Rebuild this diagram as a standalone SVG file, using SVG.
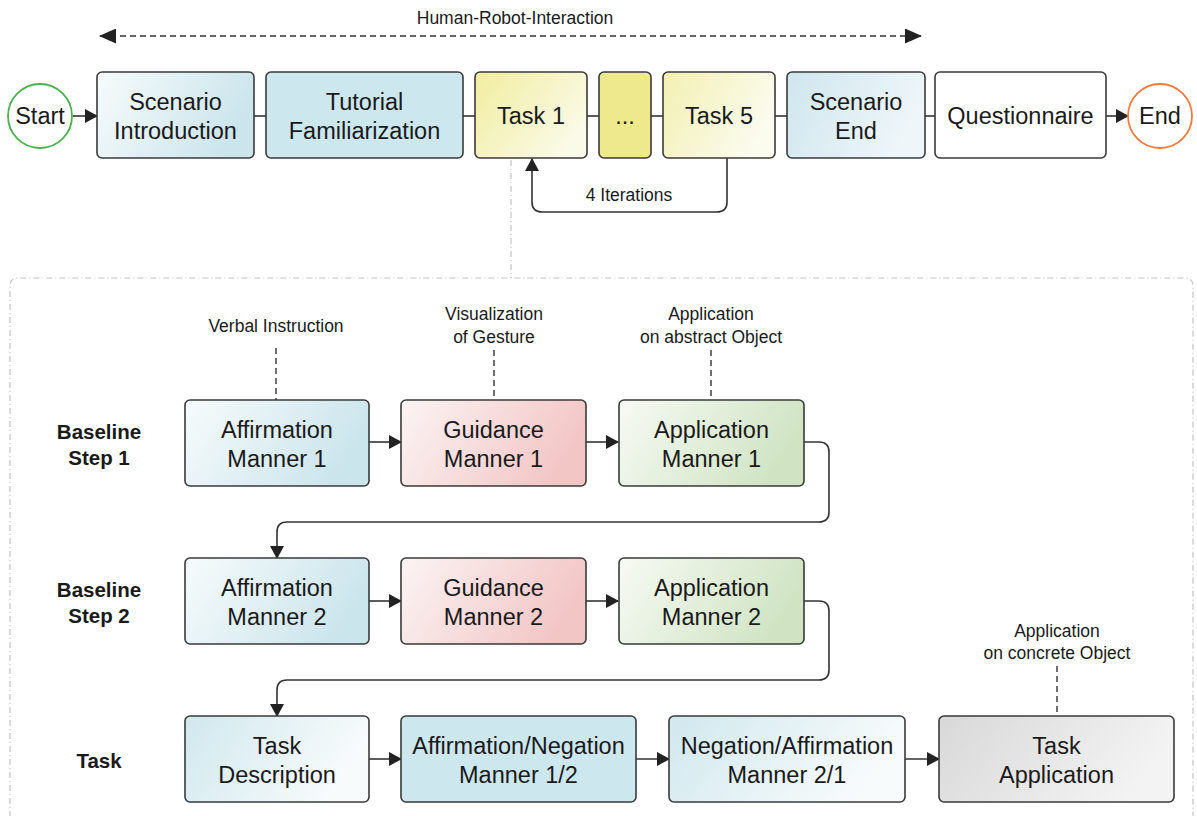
<svg xmlns="http://www.w3.org/2000/svg" width="1197" height="816" viewBox="0 0 1197 816">
<style>
.box{stroke:#3a3a3a;stroke-width:1.6}
.t{font-family:"Liberation Sans",Arial,sans-serif;font-size:23.5px;fill:#1a1a1a;text-anchor:middle}
.s{font-family:"Liberation Sans",Arial,sans-serif;font-size:17.5px;fill:#1a1a1a;text-anchor:middle}
.b{font-family:"Liberation Sans",Arial,sans-serif;font-size:20.5px;font-weight:bold;fill:#1a1a1a;text-anchor:middle}
.ln{stroke:#333;stroke-width:1.6;fill:none}
.dl{stroke:#333;stroke-width:1.4;fill:none;stroke-dasharray:6,4}
.gl{stroke:#c4c4c4;stroke-width:1.2;fill:none;stroke-dasharray:6,3,1,3}
</style>
<defs>
<marker id="ah" markerWidth="13" markerHeight="14" refX="12" refY="7" orient="auto" markerUnits="userSpaceOnUse"><path d="M0,0 L13,7 L0,14 Z" fill="#222"/></marker>
<marker id="ahs" markerWidth="17" markerHeight="15" refX="16" refY="7.5" orient="auto-start-reverse" markerUnits="userSpaceOnUse"><path d="M0,0 L17,7.5 L0,15 Z" fill="#222"/></marker>
<linearGradient id="gBlue" x1="0" y1="0" x2="1" y2="0.3"><stop offset="0" stop-color="#f7fbfc"/><stop offset="1" stop-color="#cbe5ec"/></linearGradient>
<linearGradient id="gBlueR" x1="0" y1="0" x2="1" y2="0.3"><stop offset="0" stop-color="#d0e8ee"/><stop offset="1" stop-color="#f8fbfc"/></linearGradient>
<linearGradient id="gBlueSE" x1="0" y1="0" x2="1" y2="0.3"><stop offset="0" stop-color="#cfe6ee"/><stop offset="1" stop-color="#eef6f9"/></linearGradient>
<linearGradient id="gPink" x1="0" y1="0" x2="1" y2="0.3"><stop offset="0" stop-color="#fbf4f4"/><stop offset="1" stop-color="#f3c6c6"/></linearGradient>
<linearGradient id="gGreen" x1="0" y1="0" x2="1" y2="0.3"><stop offset="0" stop-color="#f7faf4"/><stop offset="1" stop-color="#d0e4c4"/></linearGradient>
<linearGradient id="gYel" x1="0" y1="0" x2="1" y2="0.6"><stop offset="0" stop-color="#f1ed9e"/><stop offset="1" stop-color="#fafae8"/></linearGradient>
<linearGradient id="gYel5" x1="0" y1="0" x2="1" y2="0.4"><stop offset="0" stop-color="#f3f0b2"/><stop offset="1" stop-color="#fbfbee"/></linearGradient>
<linearGradient id="gGray" x1="0" y1="0" x2="1" y2="0.3"><stop offset="0" stop-color="#d8d8d8"/><stop offset="1" stop-color="#f3f3f3"/></linearGradient>
</defs>

<g id="connectors">
<line class="dl" x1="100" y1="36" x2="921" y2="36" marker-start="url(#ahs)" marker-end="url(#ahs)"/>
<line class="ln" x1="73" y1="116" x2="97" y2="116" marker-end="url(#ah)"/>
<line class="ln" x1="254" y1="116" x2="266" y2="116"/>
<line class="ln" x1="463" y1="116" x2="475" y2="116"/>
<line class="ln" x1="587" y1="116" x2="599" y2="116"/>
<line class="ln" x1="651" y1="116" x2="663" y2="116"/>
<line class="ln" x1="775" y1="116" x2="787" y2="116"/>
<line class="ln" x1="925" y1="116" x2="935" y2="116"/>
<line class="ln" x1="1106" y1="116" x2="1128" y2="116" marker-end="url(#ah)"/>
<path class="ln" d="M727,158 V202 Q727,212 717,212 H542 Q532,212 532,202 V159" marker-end="url(#ah)"/>
<line class="gl" x1="511" y1="160" x2="511" y2="278"/>
<line class="dl" x1="276" y1="348" x2="276" y2="400"/>
<line class="dl" x1="494" y1="350" x2="494" y2="400"/>
<line class="dl" x1="711" y1="350" x2="711" y2="400"/>
<line class="dl" x1="1057" y1="666" x2="1057" y2="716"/>
<line class="ln" x1="369" y1="442" x2="401" y2="442" marker-end="url(#ah)"/>
<line class="ln" x1="586" y1="442" x2="618" y2="442" marker-end="url(#ah)"/>
<line class="ln" x1="369" y1="601" x2="401" y2="601" marker-end="url(#ah)"/>
<line class="ln" x1="586" y1="601" x2="618" y2="601" marker-end="url(#ah)"/>
<line class="ln" x1="369" y1="759" x2="401" y2="759" marker-end="url(#ah)"/>
<line class="ln" x1="636" y1="759" x2="669" y2="759" marker-end="url(#ah)"/>
<line class="ln" x1="905" y1="759" x2="939" y2="759" marker-end="url(#ah)"/>
<path class="ln" d="M804,442 H819 Q829,442 829,452 V512 Q829,522 819,522 H287 Q277,522 277,532 V558" marker-end="url(#ah)"/>
<path class="ln" d="M804,601 H819 Q829,601 829,611 V670 Q829,680 819,680 H287 Q277,680 277,690 V716" marker-end="url(#ah)"/>
</g>

<g id="frame">
<path class="gl" d="M10,830 V286 Q10,278 18,278 H1185 Q1193,278 1193,286 V830"/>
</g>

<g id="labels">
<text class="s" x="515" y="24">Human-Robot-Interaction</text>
<text class="s" x="629" y="201">4 Iterations</text>
<text class="s" x="276" y="332">Verbal Instruction</text>
<text class="s" x="494" y="320">Visualization</text>
<text class="s" x="494" y="343">of Gesture</text>
<text class="s" x="711" y="320">Application</text>
<text class="s" x="711" y="343">on abstract Object</text>
<text class="s" x="1057" y="637">Application</text>
<text class="s" x="1057" y="659">on concrete Object</text>
<text class="b" x="99" y="439">Baseline</text>
<text class="b" x="99" y="465">Step 1</text>
<text class="b" x="99" y="597">Baseline</text>
<text class="b" x="99" y="623">Step 2</text>
<text class="b" x="99" y="768">Task</text>
</g>

<g id="start"><circle cx="40" cy="116" r="32" fill="#fff" stroke="#4caf50" stroke-width="1.8"/><text class="t" x="40" y="124">Start</text></g>
<g id="end"><circle cx="1160" cy="116" r="32" fill="#fff" stroke="#f07b3f" stroke-width="1.8"/><text class="t" x="1160" y="124">End</text></g>

<g id="scenario-intro"><rect class="box" x="97" y="72" width="157" height="86" rx="5" fill="url(#gBlue)"/><text class="t" x="175.5" y="110">Scenario</text><text class="t" x="175.5" y="139">Introduction</text></g>
<g id="tutorial"><rect class="box" x="266" y="72" width="197" height="86" rx="5" fill="#cde7ee"/><text class="t" x="364.5" y="110">Tutorial</text><text class="t" x="364.5" y="139">Familiarization</text></g>
<g id="task1"><rect class="box" x="475" y="72" width="112" height="86" rx="5" fill="url(#gYel)"/><text class="t" x="531" y="124">Task 1</text></g>
<g id="dots"><rect class="box" x="599" y="72" width="52" height="86" rx="5" fill="#eee98c"/><text class="t" x="625" y="124">...</text></g>
<g id="task5"><rect class="box" x="663" y="72" width="112" height="86" rx="5" fill="url(#gYel5)"/><text class="t" x="719" y="124">Task 5</text></g>
<g id="scenario-end"><rect class="box" x="787" y="72" width="138" height="86" rx="5" fill="url(#gBlueSE)"/><text class="t" x="856" y="110">Scenario</text><text class="t" x="856" y="139">End</text></g>
<g id="questionnaire"><rect class="box" x="935" y="72" width="171" height="86" rx="5" fill="#fff"/><text class="t" x="1020.5" y="124">Questionnaire</text></g>

<g id="aff1"><rect class="box" x="185" y="400" width="184" height="86" rx="5" fill="url(#gBlue)"/><text class="t" x="277" y="438">Affirmation</text><text class="t" x="277" y="467">Manner 1</text></g>
<g id="guid1"><rect class="box" x="401" y="400" width="185" height="86" rx="5" fill="url(#gPink)"/><text class="t" x="493.5" y="438">Guidance</text><text class="t" x="493.5" y="467">Manner 1</text></g>
<g id="app1"><rect class="box" x="619" y="400" width="185" height="86" rx="5" fill="url(#gGreen)"/><text class="t" x="711.5" y="438">Application</text><text class="t" x="711.5" y="467">Manner 1</text></g>

<g id="aff2"><rect class="box" x="185" y="558" width="184" height="86" rx="5" fill="url(#gBlue)"/><text class="t" x="277" y="596">Affirmation</text><text class="t" x="277" y="625">Manner 2</text></g>
<g id="guid2"><rect class="box" x="401" y="558" width="185" height="86" rx="5" fill="url(#gPink)"/><text class="t" x="493.5" y="596">Guidance</text><text class="t" x="493.5" y="625">Manner 2</text></g>
<g id="app2"><rect class="box" x="619" y="558" width="185" height="86" rx="5" fill="url(#gGreen)"/><text class="t" x="711.5" y="596">Application</text><text class="t" x="711.5" y="625">Manner 2</text></g>

<g id="taskdesc"><rect class="box" x="185" y="716" width="184" height="86" rx="5" fill="url(#gBlueR)"/><text class="t" x="277" y="754">Task</text><text class="t" x="277" y="783">Description</text></g>
<g id="affneg"><rect class="box" x="401" y="716" width="235" height="86" rx="5" fill="#cde7ee"/><text class="t" x="518.5" y="754">Affirmation/Negation</text><text class="t" x="518.5" y="783">Manner 1/2</text></g>
<g id="negaff"><rect class="box" x="669" y="716" width="236" height="86" rx="5" fill="url(#gBlueR)"/><text class="t" x="787" y="754">Negation/Affirmation</text><text class="t" x="787" y="783">Manner 2/1</text></g>
<g id="taskapp"><rect class="box" x="939" y="716" width="235" height="86" rx="5" fill="url(#gGray)"/><text class="t" x="1056.5" y="754">Task</text><text class="t" x="1056.5" y="783">Application</text></g>
</svg>
